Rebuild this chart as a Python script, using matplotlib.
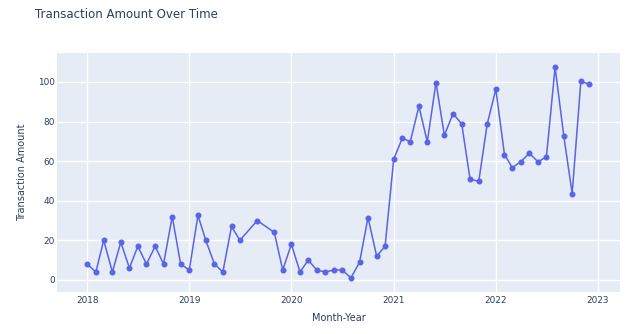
import pandas as pd
import matplotlib.pyplot as plt
import matplotlib.dates as mdates

# monthly totals, Aug and Oct 2019 have no entries
months = (
    [f"2018-{m:02d}" for m in range(1, 13)]
    + [f"2019-{m:02d}" for m in (1, 2, 3, 4, 5, 6, 7, 9, 11, 12)]
    + [f"2020-{m:02d}" for m in range(1, 13)]
    + [f"2021-{m:02d}" for m in range(1, 13)]
    + [f"2022-{m:02d}" for m in range(1, 13)]
)
amounts = [
    8, 4, 20, 4, 19, 6, 17, 8, 17, 8, 32, 8,
    5, 32.6, 20, 8, 4, 27, 20, 30, 24, 5,
    18, 4, 10, 5, 4, 5, 5, 1, 9, 31.5, 12, 17,
    61, 71.7, 69.7, 87.7, 69.7, 99.7, 73, 84, 78.8, 50.8, 49.8, 78.6,
    96.3, 63.3, 56.7, 59.8, 64, 59.6, 62.3, 107.4, 72.7, 43.6, 100.3, 98.8,
]
year_ticks = ["2018", "2019", "2020", "2021", "2022", "2023"]
y_ticks = [0, 20, 40, 60, 80, 100]

df = pd.DataFrame({"Month-Year": pd.to_datetime(months), "Transaction Amount": amounts})

txt = "#2a3f5f"
plt.rcParams["font.family"] = ["DejaVu Sans"]

fig = plt.figure(figsize=(6.4, 3.34), dpi=100)
W, H = 640, 334
ax = fig.add_axes([57 / W, (H - 292) / H, (620 - 57) / W, (292 - 53) / H])
ax.set_facecolor("#E5ECF6")

ax.plot(df["Month-Year"], df["Transaction Amount"], color="#5b63e6",
        lw=1.1, marker="o", markersize=3.3, zorder=3)

ax.set_xlim(pd.Timestamp("2017-09-15"), pd.Timestamp("2023-03-21"))
ax.set_ylim(-6.1, 114.6)
ax.set_xticks(pd.to_datetime(year_ticks))
ax.xaxis.set_major_formatter(mdates.DateFormatter("%Y"))
ax.set_yticks(y_ticks)

ax.grid(True, color="white", lw=1)
ax.set_axisbelow(True)
for s in ax.spines.values():
    s.set_visible(False)
ax.tick_params(length=0, labelsize=6.4, labelcolor=txt)
ax.tick_params(axis="x", pad=3)
ax.tick_params(axis="y", pad=1.5)

ax.set_xlabel("Month-Year", fontsize=7.0, color=txt, labelpad=5.5)
ax.set_ylabel("Transaction Amount", fontsize=7.0, color=txt, labelpad=8)
fig.text(35 / W, 1 - 15 / H, "Transaction Amount Over Time", fontsize=8.5,
         color=txt, va="center", ha="left")

fig.savefig("out.png", dpi=100, facecolor="white")
